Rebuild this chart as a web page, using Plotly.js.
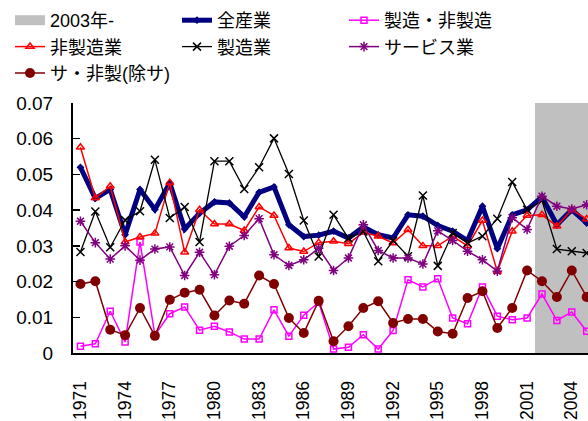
<!DOCTYPE html>
<html>
<head>
<meta charset="utf-8">
<script src="https://cdn.plot.ly/plotly-3.0.1.min.js"></script>
<style>html,body{margin:0;padding:0;background:#fff}#chart{width:588px;height:421px}</style>
</head>
<body>
<div id="chart"></div>
<script>
// ---- data ----
const years = [1971,1972,1973,1974,1975,1976,1977,1978,1979,1980,1981,1982,1983,1984,1985,1986,1987,1988,1989,1990,1991,1992,1993,1994,1995,1996,1997,1998,1999,2000,2001,2002,2003,2004,2005];
const tickYears = [1971,1974,1977,1980,1983,1986,1989,1992,1995,1998,2001,2004];
const shadedYears = [2002,2003,2004,2005];
const shadeLabel = '2003年-';
const shadeTop = 0.0712;

const zensangyo = [0.0520,0.0433,0.0458,0.0331,0.0458,0.0402,0.0476,0.0347,0.0391,0.0423,0.0420,0.0381,0.0450,0.0465,0.0359,0.0326,0.0330,0.0341,0.0322,0.0353,0.0331,0.0322,0.0387,0.0383,0.0357,0.0341,0.0315,0.0411,0.0292,0.0387,0.0401,0.0437,0.0359,0.0401,0.0364];
const seizoHiseizo = [0.0019,0.0026,0.0117,0.0031,0.0311,0.0050,0.0110,0.0129,0.0064,0.0075,0.0059,0.0039,0.0039,0.0121,0.0047,0.0106,0.0142,0.0011,0.0016,0.0051,0.0011,0.0063,0.0205,0.0185,0.0208,0.0098,0.0082,0.0185,0.0103,0.0093,0.0098,0.0165,0.0091,0.0115,0.0061];
const hiseizo = [0.0576,0.0434,0.0467,0.0311,0.0325,0.0335,0.0477,0.0282,0.0401,0.0361,0.0361,0.0343,0.0409,0.0385,0.0294,0.0284,0.0309,0.0313,0.0306,0.0338,0.0327,0.0308,0.0345,0.0300,0.0300,0.0327,0.0300,0.0371,0.0228,0.0341,0.0385,0.0387,0.0355,0.0401,0.0375];
const seizo = [0.0283,0.0396,0.0296,0.0372,0.0397,0.0541,0.0378,0.0409,0.0311,0.0537,0.0537,0.0459,0.0520,0.0601,0.0501,0.0371,0.0270,0.0387,0.0321,0.0340,0.0257,0.0315,0.0271,0.0441,0.0244,0.0336,0.0308,0.0327,0.0376,0.0479,0.0401,0.0427,0.0291,0.0285,0.0280];
const service = [0.0369,0.0309,0.0263,0.0300,0.0260,0.0291,0.0297,0.0217,0.0282,0.0219,0.0299,0.0329,0.0376,0.0275,0.0245,0.0261,0.0293,0.0231,0.0266,0.0359,0.0287,0.0266,0.0266,0.0249,0.0342,0.0315,0.0285,0.0261,0.0229,0.0379,0.0346,0.0439,0.0411,0.0403,0.0415];
const saHiseizo = [0.0193,0.0201,0.0065,0.0050,0.0126,0.0048,0.0149,0.0169,0.0177,0.0105,0.0147,0.0138,0.0217,0.0193,0.0098,0.0056,0.0146,0.0033,0.0075,0.0126,0.0145,0.0084,0.0095,0.0095,0.0060,0.0054,0.0154,0.0173,0.0070,0.0126,0.0231,0.0201,0.0157,0.0231,0.0157];

const seriesNames = ['全産業','製造・非製造','非製造業','製造業','サービス業','サ・非製(除サ)'];

// ---- chart ----
const FONT = '"Liberation Sans", Arial, "Noto Sans CJK JP", sans-serif';
const GRAY = '#c0c0c0';

const traces = [
  {type:'bar', x: shadedYears, y: shadedYears.map(()=>shadeTop), width: 1,
   marker:{color:GRAY, line:{width:0}}, cliponaxis:false, showlegend:false, hoverinfo:'skip'},
  {type:'scatter', mode:'lines', x:[null], y:[null], name: shadeLabel,
   line:{color:GRAY, width:10}},
  {type:'scatter', mode:'lines+markers', x: years, y: zensangyo, name: seriesNames[0],
   line:{color:'#000080', width:5}, marker:{symbol:'diamond', size:6, color:'#000080'}},
  {type:'scatter', mode:'lines+markers', x: years, y: seizoHiseizo, name: seriesNames[1],
   line:{color:'#ff00ff', width:1.5}, marker:{symbol:'square-open', size:6, color:'#ff00ff', line:{width:1.5}}},
  {type:'scatter', mode:'lines+markers', x: years, y: hiseizo, name: seriesNames[2],
   line:{color:'#ff0000', width:1.5}, marker:{symbol:'triangle-up-open', size:7, color:'#ff0000', line:{width:1.5}}},
  {type:'scatter', mode:'lines+markers', x: years, y: seizo, name: seriesNames[3],
   line:{color:'#000000', width:1.3}, marker:{symbol:'x-thin-open', size:8, color:'#000000', line:{width:1.5, color:'#000000'}}},
  {type:'scatter', mode:'lines+markers', x: years, y: service, name: seriesNames[4],
   line:{color:'#800080', width:1.5}, marker:{symbol:'asterisk-open', size:8, color:'#800080', line:{width:1.5, color:'#800080'}}},
  {type:'scatter', mode:'lines+markers', x: years, y: saHiseizo, name: seriesNames[5],
   line:{color:'#800000', width:1.5}, marker:{symbol:'circle', size:10, color:'#800000'}}
];

const xRange = [1970.5, 2005.09];

const layout = {
  width: 588, height: 421,
  margin: {l:73, r:0, t:103, b:68, pad:0, autoexpand:false},
  paper_bgcolor:'#fff', plot_bgcolor:'#fff',
  font: {family: FONT, size: 18, color:'#000'},
  bargap: 0,
  showlegend: true,
  legend: {orientation:'h', xref:'container', yref:'container', x:10/588, y:1-2/421, xanchor:'left', yanchor:'top',
           entrywidth:122, entrywidthmode:'pixels', font:{family: FONT, size:18, color:'#000'},
           bgcolor:'rgba(0,0,0,0)', traceorder:'normal'},
  xaxis: {type:'linear', range: xRange, tickmode:'array', tickvals: tickYears, ticktext: tickYears.map(String),
          tickangle: -90, ticks:'', showline:true, linecolor:'#000', linewidth:2, showgrid:false, zeroline:false,
          tickfont:{size:17.5, family: FONT, color:'#000'}, ticklabelstandoff: 19, fixedrange:true, automargin:false},
  xaxis2: {type:'linear', range: xRange, overlaying:'x', anchor:'y', side:'bottom', tickmode:'linear', tick0:1970.5, dtick:1,
           ticks:'inside', ticklen:7, tickwidth:1.5, tickcolor:'#000', showticklabels:false, showline:false, showgrid:false, zeroline:false},
  yaxis: {range:[0,0.07], tick0:0, dtick:0.01, ticks:'inside', ticklen:7, tickwidth:1.5, tickcolor:'#000',
          showline:true, linecolor:'#000', linewidth:2, showgrid:false, zeroline:false, automargin:false,
          tickfont:{size:19, family: FONT, color:'#000'}, ticklabelstandoff: 14}
};

Plotly.newPlot('chart', traces, layout, {staticPlot:true, displayModeBar:false});
</script>
</body>
</html>
